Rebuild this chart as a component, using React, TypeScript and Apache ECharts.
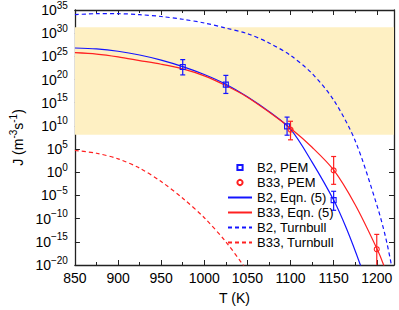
import React, { useEffect, useRef } from 'react';
import * as echarts from 'echarts';

// B2, Eqn. (5) — log10(J)
const b2EqnT = [850, 875, 900, 925, 950, 975, 1000, 1025, 1050, 1075, 1100, 1125, 1150, 1165, 1181, 1186];
const b2EqnLogJ = [26.8, 26.6, 26.1, 25.3, 24.2, 22.8, 21.1, 19.0, 16.3, 13.1, 9.3, 2.2, -6.0, -12.2, -20, -23];

// B33, Eqn. (5)
const b33EqnT = [850, 875, 900, 925, 950, 975, 1000, 1025, 1050, 1075, 1100, 1125, 1150, 1175, 1200, 1208, 1212];
const b33EqnLogJ = [25.8, 25.5, 24.9, 24.1, 23.3, 22.3, 20.8, 18.7, 16.2, 13.0, 9.5, 5.4, 0.5, -7.0, -16.4, -20, -22.5];

// B2, Turnbull
const b2TurnT = [850, 875, 900, 925, 950, 975, 1000, 1025, 1050, 1075, 1100, 1125, 1150, 1175, 1200, 1210, 1217, 1221];
const b2TurnLogJ = [34.0, 34.2, 34.2, 34.0, 33.6, 33.0, 32.2, 31.1, 29.9, 27.9, 25.2, 21.3, 15.6, 6.8, -7.0, -13.8, -20, -24];

// B33, Turnbull
const b33TurnT = [850, 875, 900, 925, 950, 975, 1000, 1025, 1045, 1050];
const b33TurnLogJ = [4.7, 4.1, 2.9, 0.9, -2.0, -5.6, -9.8, -15.0, -20, -21.5];

// PEM measurements with error bars (log10 J)
const b2PemT = [975, 1025, 1096, 1150];
const b2PemLogJ = [22.7, 18.9, 9.9, -6.0];
const b2PemLo = [21.0, 17.0, 8.0, -8.2];
const b2PemHi = [24.3, 20.9, 11.9, -4.1];

const b33PemT = [1100, 1150, 1200];
const b33PemLogJ = [9.2, 0.4, -16.6];
const b33PemLo = [7.0, -2.6, -22];
const b33PemHi = [11.0, 3.4, -13.4];

// shaded band (log10 J)
const bandRange = [8.1, 31.3];

const xTicks = { min: 850, max: 1220, interval: 50 };
const yTicks = { min: -20, max: 35, interval: 5 };

const legendNames = ['B2, PEM', 'B33, PEM', 'B2, Eqn. (5)', 'B33, Eqn. (5)', 'B2, Turnbull', 'B33, Turnbull'];

const BLUE = '#1414ff';
const RED = '#ff2020';
const AXIS = '#222';
const FONT = 'Liberation Sans';

const zip = (a: number[], b: number[]) => a.map((v, i) => [v, b[i]]);

const errSeries = (name: string, T: number[], lo: number[], hi: number[], color: string) => ({
  name,
  type: 'custom',
  clip: true,
  z: 3,
  data: T.map((t, i) => [t, lo[i], hi[i]]),
  renderItem: (_p: any, api: any) => {
    const x = api.value(0);
    const p1 = api.coord([x, api.value(1)]);
    const p2 = api.coord([x, api.value(2)]);
    const w = 2.5;
    const st = { stroke: color, lineWidth: 1.2, fill: 'none' };
    return {
      type: 'group',
      children: [
        { type: 'line', shape: { x1: p1[0], y1: p1[1], x2: p2[0], y2: p2[1] }, style: st },
        { type: 'line', shape: { x1: p1[0] - w, y1: p1[1], x2: p1[0] + w, y2: p1[1] }, style: st },
        { type: 'line', shape: { x1: p2[0] - w, y1: p2[1], x2: p2[0] + w, y2: p2[1] }, style: st },
      ],
    };
  },
});

const supLabel = (v: number) => {
  const e = v < 0 ? '\u2212' + -v : String(v);
  return `{b|10}{s|${e}}`;
};

export default function App() {
  const ref = useRef<HTMLDivElement>(null);
  useEffect(() => {
    if (!ref.current) return;
    const chart = echarts.init(ref.current, null, { renderer: 'svg' });
    const axisLineStyle = { color: AXIS, width: 1.3 };
    const option: any = {
      animation: false,
      backgroundColor: '#fff',
      textStyle: { fontFamily: FONT },
      grid: { left: 64, right: 5, top: 10, bottom: 40 },
      xAxis: [
        {
          type: 'value',
          position: 'bottom',
          ...xTicks,
          axisLine: { show: true, onZero: false, lineStyle: axisLineStyle },
          axisTick: { show: true, inside: true, length: 5, lineStyle: { color: AXIS, width: 1 } },
          minorTick: { show: true, splitNumber: 2, length: 3, lineStyle: { color: AXIS, width: 1 } },
          splitLine: { show: false },
          axisLabel: {
            color: '#000',
            fontSize: 14,
            margin: 6,
            showMaxLabel: false,
            fontFamily: FONT,
            formatter: (v: number) => String(v),
          },
          name: 'T (K)',
          nameLocation: 'middle',
          nameGap: 26,
          nameTextStyle: { color: '#000', fontSize: 14, fontFamily: FONT },
        },
        {
          type: 'value',
          position: 'top',
          ...xTicks,
          axisLine: { show: true, onZero: false, lineStyle: axisLineStyle },
          axisTick: { show: true, inside: true, length: 5, lineStyle: { color: AXIS, width: 1 } },
          minorTick: { show: true, splitNumber: 2, length: 3, lineStyle: { color: AXIS, width: 1 } },
          splitLine: { show: false },
          axisLabel: { show: false },
        },
      ],
      yAxis: [
        {
          type: 'value',
          position: 'left',
          ...yTicks,
          axisLine: { show: true, onZero: false, lineStyle: axisLineStyle },
          axisTick: { show: true, inside: true, length: 5, lineStyle: { color: AXIS, width: 1 } },
          splitLine: { show: false },
          axisLabel: {
            margin: 7,
            formatter: supLabel,
            rich: {
              b: { fontSize: 14, color: '#000', fontFamily: FONT },
              s: { fontSize: 10, color: '#000', fontFamily: FONT, padding: [0, 0, 10, 0] },
            },
          },
          name: 'J (m{s|-3}s{s|-1})',
          nameLocation: 'middle',
          nameGap: 46,
          nameRotate: 90,
          nameTextStyle: {
            color: '#000',
            fontSize: 14,
            fontFamily: FONT,
            rich: {
              s: { fontSize: 10, color: '#000', fontFamily: FONT, padding: [0, 0, 9, 0] },
            },
          },
        },
        {
          type: 'value',
          position: 'right',
          ...yTicks,
          axisLine: { show: true, onZero: false, lineStyle: axisLineStyle },
          axisTick: { show: true, inside: true, length: 5, lineStyle: { color: AXIS, width: 1 } },
          splitLine: { show: false },
          axisLabel: { show: false },
        },
      ],
      legend: {
        orient: 'vertical',
        left: 222,
        top: 156,
        itemWidth: 24,
        itemHeight: 6.5,
        itemGap: 2,
        textStyle: { fontSize: 13, color: '#000', fontFamily: FONT },
        data: legendNames.map((n, i) => (i < 2 ? { name: n } : { name: n, itemStyle: { opacity: 0 } })),
      },
      series: [
        {
          name: 'band',
          type: 'line',
          data: [],
          silent: true,
          z: 0,
          markArea: {
            silent: true,
            itemStyle: { color: '#fef0c3' },
            data: [[{ yAxis: bandRange[0] }, { yAxis: bandRange[1] }]],
          },
        },
        errSeries('errB2', b2PemT, b2PemLo, b2PemHi, BLUE),
        errSeries('errB33', b33PemT, b33PemLo, b33PemHi, RED),
        {
          name: 'B2, PEM',
          type: 'line',
          data: zip(b2PemT, b2PemLogJ),
          symbol: 'rect',
          symbolSize: 5,
          showSymbol: true,
          z: 4,
          lineStyle: { width: 0, opacity: 0 },
          itemStyle: { color: 'rgba(255,255,255,0)', borderColor: BLUE, borderWidth: 1.1 },
        },
        {
          name: 'B33, PEM',
          type: 'line',
          data: zip(b33PemT, b33PemLogJ),
          symbol: 'circle',
          symbolSize: 5,
          showSymbol: true,
          z: 4,
          lineStyle: { width: 0, opacity: 0 },
          itemStyle: { color: 'rgba(255,255,255,0)', borderColor: RED, borderWidth: 1.1 },
        },
        {
          name: 'B2, Eqn. (5)',
          type: 'line',
          data: zip(b2EqnT, b2EqnLogJ),
          smooth: 0.3,
          symbol: 'none',
          z: 2,
          lineStyle: { color: BLUE, width: 1.2 },
          itemStyle: { color: BLUE },
        },
        {
          name: 'B33, Eqn. (5)',
          type: 'line',
          data: zip(b33EqnT, b33EqnLogJ),
          smooth: 0.3,
          symbol: 'none',
          z: 2,
          lineStyle: { color: RED, width: 1.2 },
          itemStyle: { color: RED },
        },
        {
          name: 'B2, Turnbull',
          type: 'line',
          data: zip(b2TurnT, b2TurnLogJ),
          smooth: 0.3,
          symbol: 'none',
          z: 2,
          lineStyle: { color: BLUE, width: 1.2, type: [4, 3] },
          itemStyle: { color: BLUE },
        },
        {
          name: 'B33, Turnbull',
          type: 'line',
          data: zip(b33TurnT, b33TurnLogJ),
          smooth: 0.3,
          symbol: 'none',
          z: 2,
          lineStyle: { color: RED, width: 1.2, type: [4, 3] },
          itemStyle: { color: RED },
        },
      ],
    };
    chart.setOption(option);
    return () => chart.dispose();
  }, []);
  return (
    <div
      ref={ref}
      style={{ position: 'fixed', left: 0, top: 0, width: 399, height: 310, background: '#fff' }}
    />
  );
}
